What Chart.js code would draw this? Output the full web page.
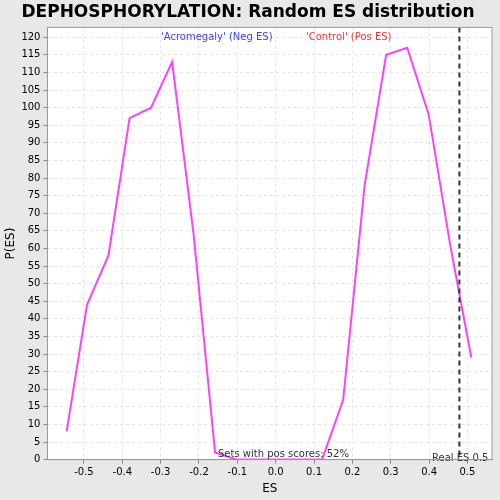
<!DOCTYPE html>
<html><head><meta charset="utf-8">
<script src="https://cdn.jsdelivr.net/npm/chart.js@4/dist/chart.umd.min.js"></script>
<style>body{margin:0;background:#e8e8e8}#wrap{width:500px;height:500px}</style>
</head><body><div id="wrap"><canvas id="c" width="500" height="500"></canvas></div>
<script>
// valores
const esValues = [-0.545,-0.492,-0.436,-0.381,-0.325,-0.27,-0.214,-0.158,-0.102,-0.047,0.009,0.065,0.121,0.176,0.232,0.288,0.343,0.399,0.455,0.51];
const pValues = [8,44,58,97,100,113,64,2,0,0,0,0,0,17,78,115,117,98,61,29];
const realES = 0.479;

const bgPlot = {
  id: 'bgPlot',
  beforeDraw(chart) {
    const { ctx, chartArea: a } = chart;
    ctx.save();
    ctx.fillStyle = '#fff';
    ctx.fillRect(a.left, a.top, a.right - a.left, a.bottom - a.top);
    ctx.restore();
  },
  afterDatasetsDraw(chart) {
    const { ctx, chartArea: a, scales } = chart;
    const x = scales.x.getPixelForValue(realES);
    ctx.save();
    ctx.strokeStyle = '#333';
    ctx.lineWidth = 2;
    ctx.setLineDash([5, 4]);
    ctx.beginPath(); ctx.moveTo(x, a.top); ctx.lineTo(x, a.bottom); ctx.stroke();
    ctx.setLineDash([]);
    ctx.font = '10px "DejaVu Sans"';
    ctx.fillStyle = '#4040ff';
    ctx.fillText("'Acromegaly' (Neg ES)", 161, 40);
    ctx.fillStyle = '#ff3030';
    ctx.fillText("'Control' (Pos ES)", 306, 40);
    ctx.fillStyle = '#333';
    ctx.fillText('Sets with pos scores: 52%', 218, 457);
    ctx.fillText('Real ES 0.5', 432, 461);
    ctx.strokeStyle = '#999'; ctx.lineWidth = 1;
    ctx.strokeRect(a.left, a.top, a.right - a.left, a.bottom - a.top);
    ctx.restore();
  }
};

new Chart(document.getElementById('c'), {
  type: 'line',
  data: {
    datasets: [{
      data: esValues.map((x, i) => ({ x, y: pValues[i] })),
      borderColor: '#ff40ff',
      borderWidth: 2,
      pointRadius: 0,
      tension: 0
    }]
  },
  options: {
    responsive: false,
    animation: false,
    layout: { padding: { left: 4, right: 8, top: 0, bottom: 4 } },
    plugins: {
      legend: { display: false },
      tooltip: { enabled: false },
      title: {
        display: true,
        text: 'DEPHOSPHORYLATION: Random ES distribution',
        color: '#000',
        font: { family: '"DejaVu Sans"', size: 17, weight: 'bold' },
        padding: { top: 2, bottom: 5 }
      }
    },
    scales: {
      x: {
        type: 'linear', min: -0.595, max: 0.564,
        title: { display: true, text: 'ES', color: '#000', font: { family: '"DejaVu Sans"', size: 12 }, padding: 0 },
        ticks: {
          stepSize: 0.1, color: '#000', font: { family: '"DejaVu Sans"', size: 10 },
          callback: v => { const r = Math.round(v * 10) / 10; return (Math.abs(r - v) < 1e-6 && r >= -0.5 && r <= 0.5) ? (r === 0 ? '0.0' : r.toFixed(1)) : ''; }
        },
        afterBuildTicks: s => { s.ticks = []; for (let i = -5; i <= 5; i++) s.ticks.push({ value: i / 10 }); },
        grid: { color: '#e4e4e4', tickLength: 4, tickColor: '#888' },
        border: { dash: [3, 3], color: '#999' }
      },
      y: {
        min: 0, max: 122.8,
        title: { display: true, text: 'P(ES)', color: '#000', font: { family: '"DejaVu Sans"', size: 12 }, padding: 0 },
        afterBuildTicks: s => { s.ticks = []; for (let v = 0; v <= 120; v += 5) s.ticks.push({ value: v }); },
        ticks: { color: '#000', font: { family: '"DejaVu Sans"', size: 10 } },
        grid: { color: '#e4e4e4', tickLength: 4, tickColor: '#888' },
        border: { dash: [3, 3], color: '#999' }
      }
    }
  },
  plugins: [bgPlot]
});
</script></body></html>
